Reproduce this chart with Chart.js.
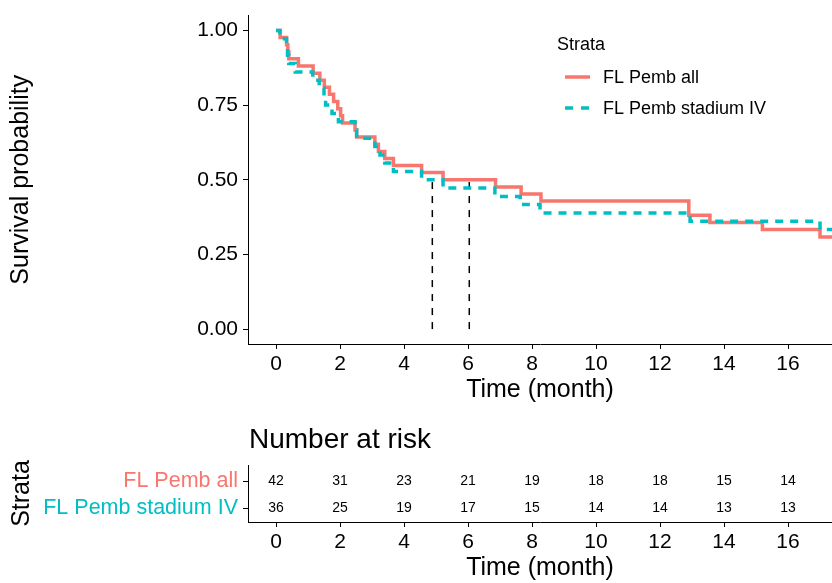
<!DOCTYPE html>
<html>
<head>
<meta charset="utf-8">
<script src="https://cdn.jsdelivr.net/npm/chart.js@4.4.1/dist/chart.umd.min.js"></script>
<style>
  body { margin: 0; background: #fff; }
  #wrap { position: relative; width: 832px; height: 583px; }
  canvas { position: absolute; left: 0; }
  #km { top: 0; }
  #risk { top: 410px; }
</style>
</head>
<body>
<div id="wrap">
  <canvas id="km" width="832" height="410"></canvas>
  <canvas id="risk" width="832" height="173"></canvas>
</div>
<script>
const strata = ["FL Pemb all", "FL Pemb stadium IV"];
const colors = ["#F8766D", "#00BFC4"];

// survival curve, FL Pemb all
const allTimes = [0, 0.13, 0.33, 0.37, 0.40, 0.70, 1.16, 1.37, 1.51, 1.67, 1.80, 1.93, 2.02, 2.08, 2.47, 2.52, 3.09, 3.20, 3.40, 3.67, 4.55, 5.22, 6.86, 7.66, 8.28, 12.9, 13.56, 15.2, 17.0, 17.4];
const allSurv = [1, .976, .952, .929, .905, .881, .857, .833, .810, .786, .762, .738, .714, .690, .667, .643, .619, .595, .571, .548, .524, .500, .476, .452, .429, .381, .357, .333, .308, .308];

// survival curve, FL Pemb stadium IV
const ivTimes = [0, 0.12, 0.33, 0.36, 0.40, 0.60, 1.15, 1.35, 1.50, 1.55, 1.75, 1.95, 2.47, 2.52, 3.09, 3.25, 3.40, 3.67, 4.55, 5.22, 6.84, 7.63, 8.25, 12.94, 17.0, 17.4];
const ivSurv = [1, .972, .944, .917, .889, .861, .833, .806, .778, .750, .722, .694, .667, .639, .611, .583, .556, .528, .500, .472, .444, .417, .389, .361, .333, .333];

const medianTimes = [6.04, 4.885];
const medianSurv = 0.5;

const xTicks = [0, 2, 4, 6, 8, 10, 12, 14, 16];
const yTicks = [0, 0.25, 0.5, 0.75, 1];

// number at risk
const riskTimes = [0, 2, 4, 6, 8, 10, 12, 14, 16];
const riskAll = [42, 31, 23, 21, 19, 18, 18, 15, 14];
const riskIV = [36, 25, 19, 17, 15, 14, 14, 13, 13];

const FONT = "'Liberation Sans', Arial, sans-serif";
Chart.defaults.font.family = FONT;
Chart.defaults.color = "#000";

const toPts = (xs, ys) => xs.map((x, i) => ({ x: x, y: ys[i] }));

const axisX = (h, titlePad) => ({
  type: "linear",
  min: -0.875,
  max: 17.375,
  afterBuildTicks: (s) => { s.ticks = xTicks.map(v => ({ value: v })); },
  afterFit: (s) => { s.height = h; },
  grid: { drawOnChartArea: false, tickLength: 5, color: "#000", lineWidth: 1 },
  border: { display: true, color: "#000", width: 1 },
  ticks: { font: { size: 21 }, padding: 3, maxRotation: 0, color: "#000" },
  title: { display: true, text: "Time (month)", font: { size: 25 }, padding: { top: 0, bottom: titlePad }, color: "#000" }
});

const legendPlugin = {
  id: "strataLegend",
  afterDraw(chart) {
    const ctx = chart.ctx;
    ctx.save();
    ctx.fillStyle = "#000";
    ctx.textBaseline = "middle";
    ctx.font = "18px " + FONT;
    ctx.fillText("Strata", 557, 45);
    const rows = [77, 108];
    strata.forEach((name, i) => {
      ctx.strokeStyle = colors[i];
      ctx.lineWidth = 3.5;
      ctx.setLineDash(i === 1 ? [8, 8] : []);
      ctx.beginPath();
      ctx.moveTo(565, rows[i]);
      ctx.lineTo(590, rows[i]);
      ctx.stroke();
      ctx.setLineDash([]);
      ctx.fillStyle = "#000";
      ctx.fillText(name, 603, rows[i] + 1);
    });
    ctx.restore();
  }
};

const medianSets = medianTimes.map(t => ({
  data: [{ x: t, y: 0 }, { x: t, y: medianSurv }],
  borderColor: "#000",
  borderWidth: 1.5,
  borderDash: [7, 7],
  pointRadius: 0,
  fill: false
}));

new Chart(document.getElementById("km"), {
  type: "line",
  data: {
    datasets: [
      {
        label: strata[1],
        data: toPts(ivTimes, ivSurv),
        borderColor: colors[1],
        borderWidth: 3.5,
        borderDash: [8, 7],
        stepped: "before",
        pointRadius: 0,
        fill: false
      },
      {
        label: strata[0],
        data: toPts(allTimes, allSurv),
        borderColor: colors[0],
        borderWidth: 3.5,
        stepped: "before",
        pointRadius: 0,
        fill: false
      },
      ...medianSets
    ]
  },
  options: {
    responsive: false,
    animation: false,
    layout: { padding: { top: 14, right: 0, left: 0, bottom: 0 } },
    plugins: { legend: { display: false }, tooltip: { enabled: false } },
    scales: {
      x: axisX(66, 5),
      y: {
        type: "linear",
        min: -0.05,
        max: 1.05,
        afterBuildTicks: (s) => { s.ticks = yTicks.map(v => ({ value: v })); },
        afterFit: (s) => { s.width = 248; },
        grid: { drawOnChartArea: false, tickLength: 5, color: "#000", lineWidth: 1 },
        border: { display: true, color: "#000", width: 1 },
        ticks: { font: { size: 21, lineHeight: 1 }, padding: 5, color: "#000", callback: (v) => Number(v).toFixed(2) },
        title: { display: true, text: "Survival probability", font: { size: 25 }, padding: { top: 6, bottom: 0 }, color: "#000" }
      }
    }
  },
  plugins: [legendPlugin]
});

const riskPlugin = {
  id: "riskNumbers",
  afterDraw(chart) {
    const ctx = chart.ctx;
    const xs = chart.scales.x, ys = chart.scales.y;
    ctx.save();
    ctx.fillStyle = "#000";
    ctx.textAlign = "center";
    ctx.textBaseline = "middle";
    ctx.font = "14px " + FONT;
    riskTimes.forEach((t, i) => {
      const px = xs.getPixelForValue(t);
      ctx.fillText(String(riskAll[i]), px, ys.getPixelForValue(2));
      ctx.fillText(String(riskIV[i]), px, ys.getPixelForValue(1));
    });
    ctx.textAlign = "left";
    ctx.font = "28px " + FONT;
    ctx.fillText("Number at risk", chart.chartArea.left + 1, 30);
    ctx.restore();
  }
};

new Chart(document.getElementById("risk"), {
  type: "scatter",
  data: { datasets: [{ data: [], pointRadius: 0 }] },
  options: {
    responsive: false,
    animation: false,
    layout: { padding: { top: 55, right: 0, left: 0, bottom: 0 } },
    plugins: { legend: { display: false }, tooltip: { enabled: false } },
    scales: {
      x: axisX(61, 0),
      y: {
        type: "linear",
        min: 0.5,
        max: 2.6,
        afterBuildTicks: (s) => { s.ticks = [{ value: 1 }, { value: 2 }]; },
        afterFit: (s) => { s.width = 248; },
        grid: { drawOnChartArea: false, tickLength: 5, color: "#000", lineWidth: 1 },
        border: { display: true, color: "#000", width: 1 },
        ticks: {
          font: { size: 21.5, lineHeight: 1 },
          padding: 5,
          color: (c) => (c.tick && c.tick.value === 2 ? colors[0] : colors[1]),
          callback: (v) => (v === 2 ? strata[0] : strata[1])
        },
        title: { display: true, text: "Strata", font: { size: 25 }, padding: { top: 7, bottom: 0 }, color: "#000" }
      }
    }
  },
  plugins: [riskPlugin]
});
</script>
</body>
</html>
